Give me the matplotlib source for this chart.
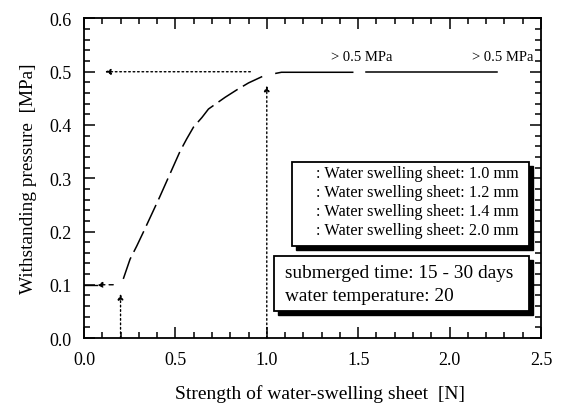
import matplotlib.pyplot as plt
import matplotlib.ticker as tkr
import matplotlib.patches as mpatches

plt.rcParams['font.family'] = ['Liberation Serif', 'DejaVu Serif']

# curve
curve_x = [0.215, 0.252, 0.289, 0.325, 0.413, 0.526, 0.562, 0.599, 0.645, 0.681, 0.772, 0.836, 0.90, 0.975]
curve_y = [0.111, 0.148, 0.173, 0.199, 0.264, 0.351, 0.374, 0.396, 0.414, 0.430, 0.452, 0.466, 0.479, 0.491]

flat1_x = [1.05, 1.08, 1.47]
flat1_y = [0.497, 0.499, 0.499]
flat2_x = [1.545, 2.26]
flat2_y = [0.499, 0.499]

legend_lines = [": Water swelling sheet: 1.0 mm",
                ": Water swelling sheet: 1.2 mm",
                ": Water swelling sheet: 1.4 mm",
                ": Water swelling sheet: 2.0 mm"]
cond_lines = ["submerged time: 15 - 30 days", "water temperature: 20"]

DOT = (0, (1.2, 2.0))


def shadow_box(ax, x0, y0, x1, y1):
    dx, dy = 0.022, 0.0075
    ax.add_patch(mpatches.Rectangle((x0 + dx, y0 - dy), x1 - x0, y1 - y0,
                                    facecolor="black", edgecolor="black", zorder=4))
    ax.add_patch(mpatches.Rectangle((x0, y0), x1 - x0, y1 - y0,
                                    facecolor="white", edgecolor="black", lw=1.3, zorder=5))


def arrow(ax, tip, tail, ls=DOT):
    ax.annotate("", xy=tip, xytext=tail,
                arrowprops=dict(arrowstyle="-|>", linestyle=ls, color="black",
                                lw=1.0, mutation_scale=8, shrinkA=0, shrinkB=0))


def main():
    fig = plt.figure(figsize=(5.66, 4.06), dpi=100)
    ax = fig.add_axes([0.1484, 0.165, 0.8074, 0.787])

    ax.plot(curve_x, curve_y, color="black", lw=1.1, dashes=(15, 4))
    ax.plot(flat1_x, flat1_y, color="black", lw=1.1)
    ax.plot(flat2_x, flat2_y, color="black", lw=1.1)

    # dotted guides with arrows
    arrow(ax, (0.115, 0.5), (0.91, 0.5))
    arrow(ax, (1.0, 0.474), (1.0, 0.0))
    arrow(ax, (0.2, 0.083), (0.2, 0.0))
    arrow(ax, (0.07, 0.1), (0.16, 0.1), ls=(0, (3, 3)))
    ax.plot([0.0, 0.07], [0.1, 0.1], color="black", lw=1.0)

    ax.text(1.52, 0.528, "> 0.5 MPa", ha="center", va="center", fontsize=10.5)
    ax.text(2.29, 0.528, "> 0.5 MPa", ha="center", va="center", fontsize=10.5)

    shadow_box(ax, 1.137, 0.173, 2.433, 0.330)
    for i, s in enumerate(legend_lines):
        ax.text(2.38, 0.3095 - i * 0.0355, s, ha="right", va="center", fontsize=11.7, zorder=6)

    shadow_box(ax, 1.037, 0.0513, 2.433, 0.1546)
    for i, s in enumerate(cond_lines):
        ax.text(1.1, 0.123 - i * 0.044, s, ha="left", va="center", fontsize=13.9, zorder=6)

    ax.set_xlim(0, 2.5)
    ax.set_ylim(0, 0.6)
    ax.xaxis.set_major_locator(tkr.MultipleLocator(0.5))
    ax.xaxis.set_minor_locator(tkr.MultipleLocator(0.1))
    ax.yaxis.set_major_locator(tkr.MultipleLocator(0.1))
    ax.yaxis.set_minor_locator(tkr.MultipleLocator(0.02))
    ax.xaxis.set_major_formatter(tkr.FormatStrFormatter("%.1f"))
    ax.yaxis.set_major_formatter(tkr.FormatStrFormatter("%.1f"))
    ax.tick_params(which="both", direction="in", top=True, right=True, labelsize=13, width=1.1)
    ax.tick_params(which="major", length=8, pad=9)
    ax.tick_params(which="minor", length=4)
    for sp in ax.spines.values():
        sp.set_linewidth(1.3)

    ax.set_xlabel("Strength of water-swelling sheet  [N]", fontsize=14)
    ax.xaxis.set_label_coords(0.516, -0.145)
    ax.set_ylabel("Withstanding pressure  [MPa]", fontsize=13.9, va="center")
    ax.yaxis.set_label_coords(-0.122, 0.5)

    fig.savefig("out.png", dpi=100)


if __name__ == "__main__":
    main()
